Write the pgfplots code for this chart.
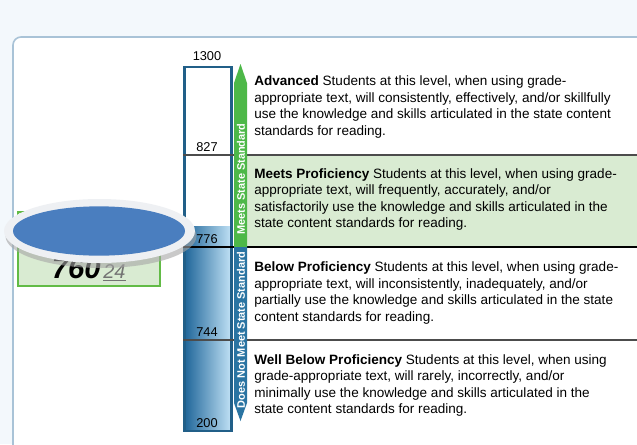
\documentclass[border=0pt]{standalone}
\usepackage{pgfplots}
\pgfplotsset{compat=1.18}
\usepackage{pgfplotstable}
\usepackage{fontspec}
\setmainfont{Liberation Sans}
\definecolor{bg}{HTML}{F3F8FC}
\definecolor{frame}{HTML}{A9C3D7}
\definecolor{barblue}{HTML}{215F88}
\definecolor{filldark}{HTML}{21679A}
\definecolor{filllight}{HTML}{BCDEF3}
\definecolor{bandgreen}{HTML}{D9EBD2}
\definecolor{arrgreen}{HTML}{4DB848}
\definecolor{arrblue}{HTML}{2A74A2}
\definecolor{boxgreen}{HTML}{62BB46}
\definecolor{ellblue}{HTML}{4A7EBF}
\definecolor{ellrim}{HTML}{EEF0F3}
% cut scores and their place on the (non-linear) scale, in pixels from the top
\pgfplotstableread{
score pos
200 431
744 340
776 247
827 155
1300 67
}\cuts
\begin{document}
\begin{tikzpicture}
\begin{axis}[
  hide axis, scale only axis,
  width=477.75pt, height=333pt,
  xmin=0, xmax=637, ymin=0, ymax=444, y dir=reverse,
  clip=false,
]
% background and frame
\fill[bg] (axis cs:0,0) rectangle (axis cs:637,444);
\draw[frame, fill=white, line width=1.2pt, rounded corners=6pt] (axis cs:13,37) rectangle (axis cs:680,490);
% meets proficiency band
\addplot[draw=none, fill=bandgreen] coordinates {(247,155) (637,155) (637,247) (247,247)} -- cycle;
% student fill
\addplot[draw=none, left color=filldark, right color=filllight] coordinates {(185,431) (185,226) (230,226) (230,431)} -- cycle;
% bar outline
\addplot[barblue, line width=2.2pt] coordinates {(184.5,431) (184.5,67) (231.5,67) (231.5,431)} -- cycle;
% cut lines
\addplot[black!70, line width=1pt] coordinates {(183,155) (637,155)};
\addplot[black, line width=2.2pt] coordinates {(183,247) (637,247)};
\addplot[black!70, line width=1pt] coordinates {(183,340) (637,340)};
% cut labels
\addplot[only marks, mark=none, nodes near coords={\pgfplotspointmeta},
  point meta=explicit symbolic,
  every node near coord/.append style={font=\fontsize{9.6}{11}\selectfont, anchor=center, inner sep=0pt}]
  table[x expr=207, y expr={\thisrow{score}==1300 ? 56 : \thisrow{pos}-8}, meta=score] {\cuts};
% arrows
\fill[arrgreen] (axis cs:234,247) -- (axis cs:234,83) -- (axis cs:240.5,64) -- (axis cs:247,83) -- (axis cs:247,247) -- cycle;
\fill[arrblue] (axis cs:234,247) -- (axis cs:234,403) -- (axis cs:240.5,421) -- (axis cs:247,403) -- (axis cs:247,247) -- cycle;
\node[rotate=90, text=white, font=\bfseries\fontsize{8.2}{9}\selectfont, inner sep=0pt] at (axis cs:241,179) {Meets State Standard};
\node[rotate=90, text=white, font=\bfseries\fontsize{8.2}{9}\selectfont, inner sep=0pt] at (axis cs:241,330) {Does Not Meet State Standard};
% descriptions
\tikzset{desc/.style={anchor=west, align=left, inner sep=0pt, font=\fontsize{10.15}{12.45}\selectfont}}
\node[desc] at (axis cs:254,107) {\textbf{Advanced} Students at this level, when using grade-\\appropriate text, will consistently, effectively, and/or skillfully\\use the knowledge and skills articulated in the state content\\standards for reading.};
\node[desc] at (axis cs:254,199.5) {\textbf{Meets Proficiency} Students at this level, when using grade-\\appropriate text, will frequently, accurately, and/or\\satisfactorily use the knowledge and skills articulated in the\\state content standards for reading.};
\node[desc] at (axis cs:254,293) {\textbf{Below Proficiency} Students at this level, when using grade-\\appropriate text, will inconsistently, inadequately, and/or\\partially use the knowledge and skills articulated in the state\\content standards for reading.};
\node[desc] at (axis cs:254,385.5) {\textbf{Well Below Proficiency} Students at this level, when using\\grade-appropriate text, will rarely, incorrectly, and/or\\minimally use the knowledge and skills articulated in the\\state content standards for reading.};
% score box
\draw[boxgreen, fill=bandgreen, line width=1.3pt] (axis cs:18,212) rectangle (axis cs:160,286);
\node[anchor=base east, inner sep=0pt, font=\bfseries\itshape\fontsize{22}{26}\selectfont] at (axis cs:101,278) {760};
\node[anchor=base west, inner sep=0pt, text=black!55, font=\itshape\fontsize{15}{17}\selectfont] at (axis cs:103,278) {\underline{24}};
% redaction ellipse
\fill[black!35, opacity=0.6] (axis cs:101,236) ellipse [x radius=71.6pt, y radius=24pt];
\fill[ellrim] (axis cs:99.5,231) ellipse [x radius=71.6pt, y radius=24pt];
\fill[ellblue] (axis cs:99,231) ellipse [x radius=64.5pt, y radius=18.5pt];
\end{axis}
\pgfresetboundingbox
\useasboundingbox (0,0) rectangle (477.75pt,333pt);
\end{tikzpicture}
\end{document}
